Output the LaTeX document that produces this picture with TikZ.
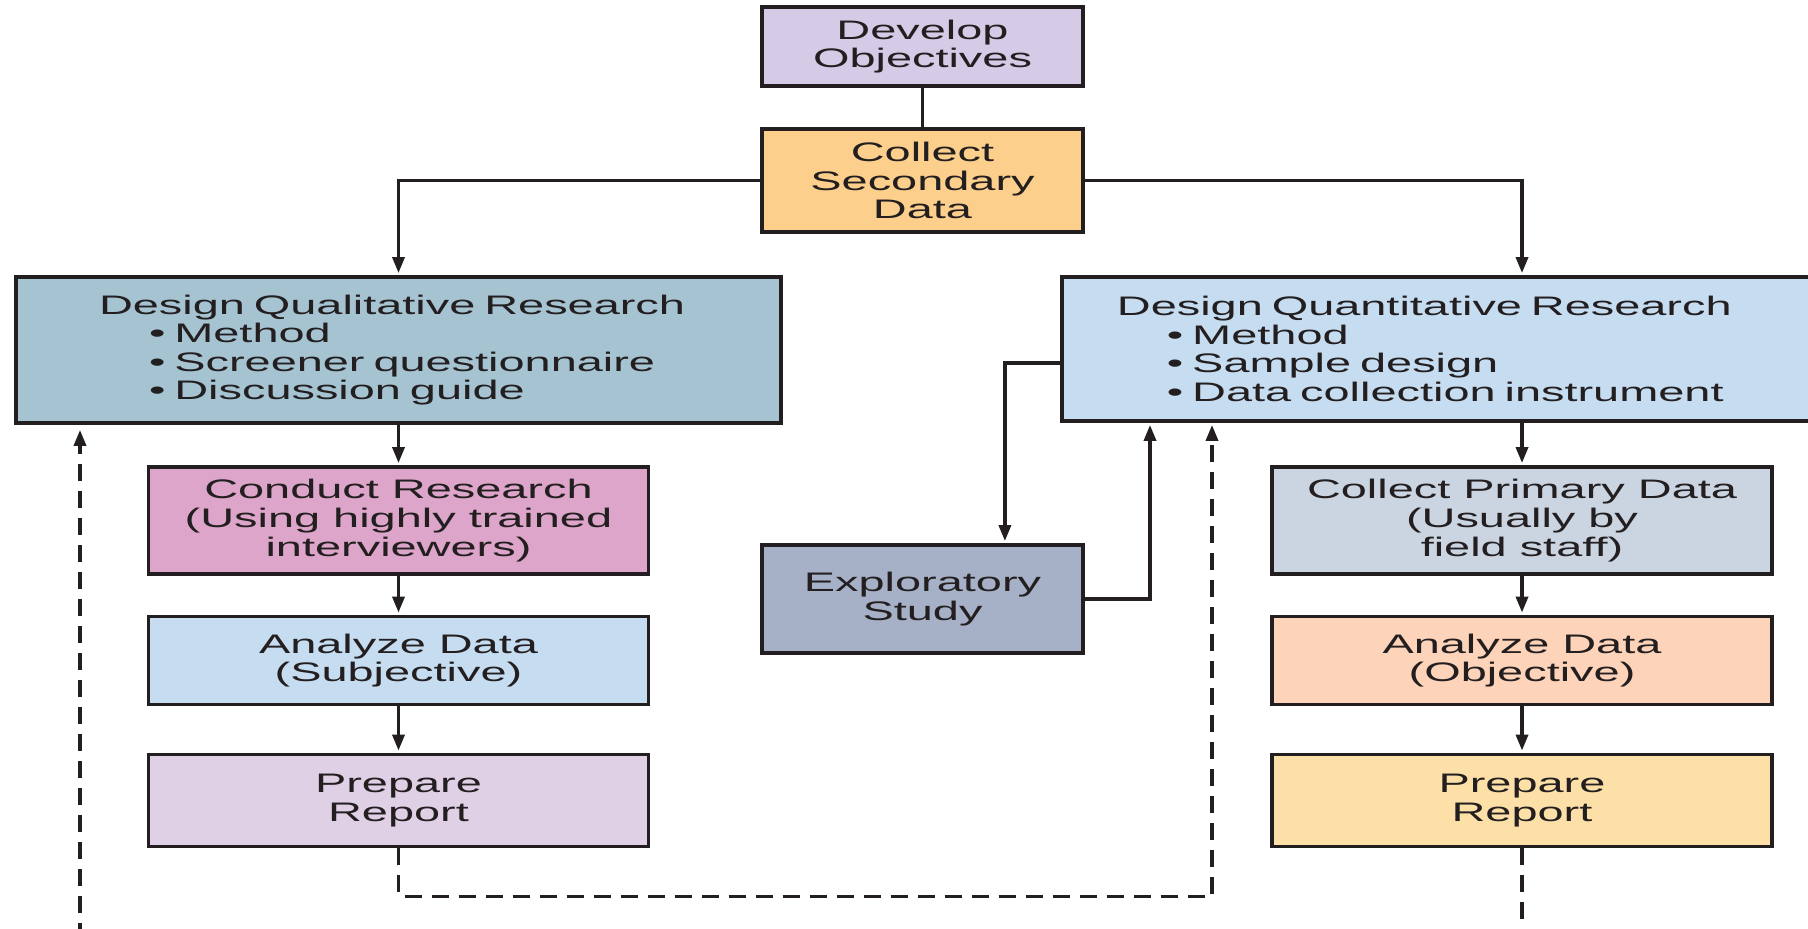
\documentclass[tikz,border=0pt]{standalone}
\usepackage{fontspec}
\setmainfont{Liberation Sans}[FakeStretch=1.75]
\usetikzlibrary{arrows.meta}
\definecolor{inkDark}{HTML}{231F20}
\definecolor{fillObjectives}{HTML}{D6CBE6}
\definecolor{fillSecondary}{HTML}{FDCF8C}
\definecolor{fillQualitative}{HTML}{A6C3D2}
\definecolor{fillQuantitative}{HTML}{C6DCF0}
\definecolor{fillConduct}{HTML}{DDA5C9}
\definecolor{fillSubjective}{HTML}{C6DCF0}
\definecolor{fillReportSubj}{HTML}{DFD0E6}
\definecolor{fillExploratory}{HTML}{A6B1C7}
\definecolor{fillPrimary}{HTML}{CBD4E1}
\definecolor{fillObjective}{HTML}{FDD3B9}
\definecolor{fillReportObj}{HTML}{FDE0A8}
\newcommand{\mrBullet}{\hspace*{25pt}\textbullet\ }

\begin{document}
\begin{tikzpicture}[x=0.5pt,y=-0.5pt,
  mrBox/.style={draw=inkDark, line width=1.9pt, align=center, inner sep=0pt, text=inkDark, font=\fontsize{13.4}{14.3}\selectfont},
  mrLine/.style={draw=inkDark, line width=1.7pt},
  mrArrow/.style={mrLine, -{Triangle[length=8pt,width=6pt]}, shorten >=1pt},
  mrDash/.style={dash pattern=on 8.5pt off 5pt}]
\useasboundingbox (0,0) rectangle (1808,929);
\clip (0,0) rectangle (1808,929);
\node[mrBox, fill=fillObjectives, minimum width=160.5pt, minimum height=39.5pt] (objectives) at (922.5,46.5) {Develop\\Objectives};
\node[mrBox, fill=fillSecondary, minimum width=160.5pt, minimum height=51.5pt] (secondary) at (922.5,180.5) {Collect\\Secondary\\Data};
\node[mrBox, fill=fillQualitative, align=left, text width=299.5pt, inner xsep=41.5pt, minimum height=73pt] (qualitative) at (398.5,350) {Design Qualitative Research\\\mrBullet Method\\\mrBullet Screener questionnaire\\\mrBullet Discussion guide};
\node[mrBox, fill=fillQuantitative, align=left, text width=331pt, inner xsep=27.5pt, minimum height=72pt, anchor=west] (quantitative) at (1060,349) {Design Quantitative Research\\\mrBullet Method\\\mrBullet Sample design\\\mrBullet Data collection instrument};
\node[mrBox, fill=fillConduct, minimum width=250pt, minimum height=53.5pt] (conduct) at (398.5,520.5) {Conduct Research\\(Using highly trained\\interviewers)};
\node[mrBox, fill=fillSubjective, minimum width=250pt, minimum height=44pt] (subjective) at (398.5,660.5) {Analyze Data\\(Subjective)};
\node[mrBox, fill=fillReportSubj, minimum width=250pt, minimum height=46pt] (reportSubj) at (398.5,800.5) {Prepare\\Report};
\node[mrBox, fill=fillExploratory, minimum width=160.5pt, minimum height=54pt] (exploratory) at (922.5,599) {Exploratory\\Study};
\node[mrBox, fill=fillPrimary, minimum width=250pt, minimum height=53.5pt] (primary) at (1522,520.5) {Collect Primary Data\\(Usually by\\field staff)};
\node[mrBox, fill=fillObjective, minimum width=250pt, minimum height=44pt] (objective) at (1522,660.5) {Analyze Data\\(Objective)};
\node[mrBox, fill=fillReportObj, minimum width=250pt, minimum height=46pt] (reportObj) at (1522,800.5) {Prepare\\Report};
\coordinate (leftEnd) at (80,940);
\coordinate (rightEnd) at (1522,940);
\draw[mrLine] (objectives) -- (secondary);
\draw[mrArrow] (secondary.west) -| (qualitative.north);
\draw[mrArrow] (secondary.east) -| (primary.north |- quantitative.north);
\draw[mrArrow] (qualitative) -- (conduct);
\draw[mrArrow] (conduct) -- (subjective);
\draw[mrArrow] (subjective) -- (reportSubj);
\draw[mrArrow] (primary.north |- quantitative.south) -- (primary.north);
\draw[mrArrow] (primary) -- (objective);
\draw[mrArrow] (objective) -- (reportObj);
\draw[mrArrow] ([yshift=-7pt]quantitative.west) -| ([xshift=-40pt]exploratory.north east);
\draw[mrArrow] (exploratory.east) -| ([xshift=45pt]quantitative.south west);
\draw[mrArrow, mrDash] (reportSubj.south) -- ++(0,48) -| ([xshift=76pt]quantitative.south west);
\draw[mrArrow, mrDash, shorten >=2.5pt] (leftEnd) -- (qualitative.south -| leftEnd);
\draw[mrLine, mrDash] (reportObj.south) -- (rightEnd);
\end{tikzpicture}
\end{document}
